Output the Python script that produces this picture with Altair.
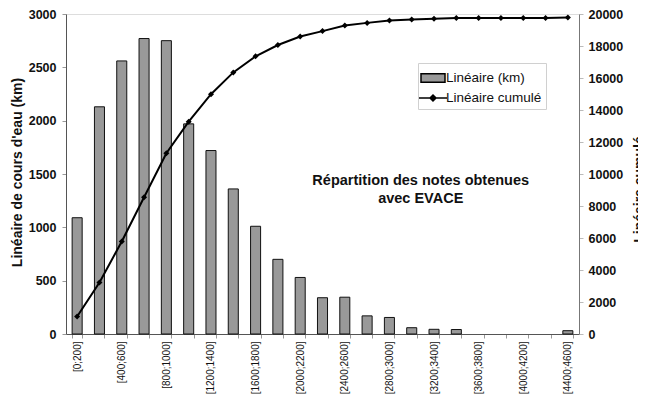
import json
import altair as alt
import pandas as pd

categories = ["[0;200]", "[200;400]", "[400;600]", "[600;800]", "[800;1000]",
              "[1000;1200]", "[1200;1400]", "[1400;1600]", "[1600;1800]", "[1800;2000]",
              "[2000;2200]", "[2200;2400]", "[2400;2600]", "[2600;2800]", "[2800;3000]",
              "[3000;3200]", "[3200;3400]", "[3400;3600]", "[3600;3800]", "[3800;4000]",
              "[4000;4200]", "[4200;4400]", "[4400;4600]"]
lineaire_km = [1090, 2130, 2560, 2770, 2750, 1970, 1720, 1360, 1010, 700,
               530, 340, 345, 170, 155, 59, 44, 42, 0, 0, 0, 0, 31]
lineaire_cumule = [1090, 3220, 5780, 8550, 11300, 13270, 14990, 16350, 17360, 18060,
                   18590, 18930, 19275, 19445, 19600, 19660, 19705, 19745, 19745, 19745,
                   19745, 19745, 19775]
series_names = ["Linéaire (km)", "Linéaire cumulé"]
left_ticks = [0, 500, 1000, 1500, 2000, 2500, 3000]
right_ticks = [0, 2000, 4000, 6000, 8000, 10000, 12000, 14000, 16000, 18000, 20000]
shown_labels = categories[::2]
annotation = "Répartition des notes obtenues\navec EVACE"

FONT = "Liberation Sans"

bars_df = pd.DataFrame({"cat": categories, "val": lineaire_km})
line_df = pd.DataFrame({"cat": categories, "val": lineaire_cumule})
text_df = pd.DataFrame({"cat": ["[3000;3200]"], "val": [1430], "txt": [annotation]})
legend_df = pd.DataFrame({"cat": [categories[0], categories[0]], "val": [0, 0],
                          "series": series_names})

x_enc = alt.X(
    "cat:N", sort=categories, title=None,
    scale=alt.Scale(paddingInner=0.55, paddingOuter=0.275),
    axis=alt.Axis(
        labelAngle=270, labelFont=FONT, labelFontSize=10, labelColor="#111111",
        labelExpr="indexof(" + json.dumps(shown_labels) + ", datum.value) >= 0 ? datum.label : ''",
        tickBand="extent", tickSize=4, tickColor="#999999", domainColor="#555555",
        labelPadding=3, grid=False,
    ),
)

bars = alt.Chart(bars_df).transform_filter("datum.val > 0").mark_bar(
    fill="#999999", stroke="#111111", strokeWidth=1
).encode(
    x=x_enc,
    y=alt.Y("val:Q", scale=alt.Scale(domain=[0, 3000], nice=False),
            axis=alt.Axis(values=left_ticks, format="d", title="Linéaire de cours d'eau (km)",
                          titleFont=FONT, titleFontSize=14, titleFontWeight="bold",
                          titleX=-49, titleY=158, titleAngle=270, titleAlign="center",
                          titleBaseline="middle", titleColor="#111111",
                          labelFont=FONT, labelFontSize=12.5, labelFontWeight="bold",
                          labelColor="#111111", tickSize=4, tickColor="#999999",
                          domainColor="#555555", labelPadding=6, grid=False)),
)

text = alt.Chart(text_df).mark_text(
    font=FONT, fontSize=14.5, fontWeight="bold", align="center", baseline="middle",
    lineBreak="\n", lineHeight=18, dx=9, color="#111111",
).encode(x=alt.X("cat:N", sort=categories), y=alt.Y("val:Q"), text="txt:N")

legend_props = dict(title=None, orient="none", legendX=352, legendY=49,
                    fillColor="white", strokeColor="#d0d0d0", padding=4,
                    labelFont=FONT, labelFontSize=13.5, labelFontStyle="normal",
                    labelFontWeight="normal", labelColor="#111111",
                    symbolSize=400, symbolOpacity=1, symbolStrokeWidth=1.5,
                    rowPadding=1, labelOffset=2)

legend_layer = alt.Chart(legend_df).mark_point(filled=False, opacity=0).encode(
    x=alt.X("cat:N", sort=categories),
    y=alt.Y("val:Q"),
    color=alt.Color("series:N",
                    scale=alt.Scale(domain=series_names, range=["#000000", "#000000"]),
                    legend=alt.Legend(**legend_props)),
    fill=alt.Fill("series:N",
                  scale=alt.Scale(domain=series_names, range=["#999999", "#000000"]),
                  legend=alt.Legend(**legend_props)),
    shape=alt.Shape("series:N",
                    scale=alt.Scale(domain=series_names,
                                    range=["M-1.2,-0.42H1.2V0.42H-1.2Z",
                                           "M-1.4,0H1.4M0,-0.3L0.3,0L0,0.3L-0.3,0Z"]),
                    legend=alt.Legend(**legend_props)),
)

line = alt.Chart(line_df).mark_line(
    strokeWidth=2, color="#000000",
    point=alt.OverlayMarkDef(shape="diamond", size=36, filled=True, color="#000000"),
).encode(
    x=alt.X("cat:N", sort=categories),
    y=alt.Y("val:Q", scale=alt.Scale(domain=[0, 20000], nice=False),
            axis=alt.Axis(orient="right", values=right_ticks, format="d", title="Linéaire cumulé",
                          titleFont=FONT, titleFontSize=14, titleFontWeight="bold",
                          titleX=60, titleY=175, titleAngle=270, titleAlign="center",
                          titleBaseline="middle", titleColor="#111111",
                          labelFont=FONT, labelFontSize=12.5, labelFontWeight="bold",
                          labelColor="#111111", tickSize=4, tickColor="#bbbbbb",
                          domainColor="#777777", labelPadding=5, grid=False)),
)

chart = alt.layer(alt.layer(bars, text, legend_layer), line).resolve_scale(y="independent").properties(
    width=513, height=320,
    autosize=alt.AutoSizeParams(type="none"),
    padding={"left": 58, "top": 6, "right": 59, "bottom": 60},
).configure_view(stroke="#888888", strokeWidth=1).configure(background="white")

chart.save("out.html", embed_options={"renderer": "svg", "actions": False})
